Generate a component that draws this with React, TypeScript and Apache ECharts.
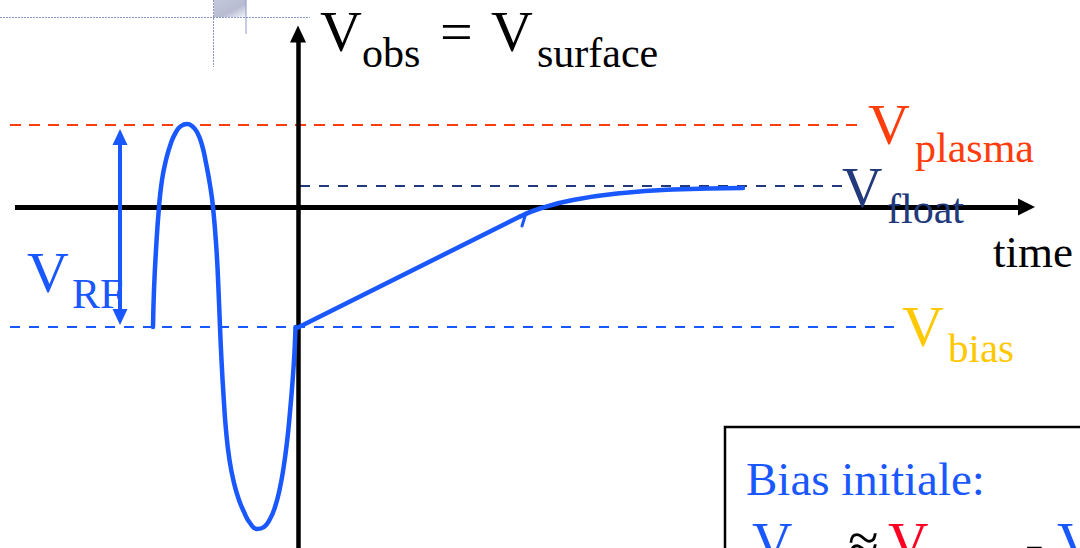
import React, { useEffect, useRef } from "react";
import * as echarts from "echarts";

// Coordinates: time (t) relative to the vertical axis, potential (v) relative to the time axis
const rfWave: number[][] = [
  [-145, -120], [-144, -83], [-142, -43], [-139, 0], [-136, 27], [-132, 47], [-127, 64],
  [-122, 75], [-117, 81], [-111, 83], [-106, 81], [-101, 75], [-96, 62], [-92, 44],
  [-88, 22], [-85, 0], [-81.5, -43], [-79.5, -83], [-78, -120],
  [-76.5, -153], [-74.5, -188], [-72, -223], [-68.5, -253], [-64, -276], [-59, -293],
  [-54, -305], [-48, -316], [-41, -322], [-34, -320], [-28, -312], [-23, -300],
  [-18.5, -283], [-14.5, -261], [-11, -235], [-8, -205], [-5.5, -175], [-3.5, -145], [-2.5, -120],
];
const rampLine: number[][] = [[-1, -121], [222, -9.5]];
const rampCurve: number[][] = [
  [222, -9.5], [242, -1.5], [275, 7], [325, 14], [375, 17.5], [445, 19],
];
const hookMark: number[][] = [[228, -6], [224, -19]];
const plasmaLevel: number[][] = [[-288, 82], [567, 82]];
const floatLevel: number[][] = [[2, 21], [545, 21]];
const biasLevel: number[][] = [[-288, -120], [597, -120]];
const timeAxisLine: number[][] = [[-283, 0], [728.5, 0]];
const voltAxisLine: number[][] = [[0, -341], [0, 173]];
const rfSpan: number[][] = [[-178, 70], [-178, -110]];

const BLUE = "#1957ff";
const PLASMA = "#ff3c0c";
const FLOAT = "#22397c";
const BIAS = "#ffc800";
const RED = "#ff0022";
const FONT = '"Liberation Serif", Tinos, "Times New Roman", Times, "DejaVu Serif", serif';

function txt(text: string, x: number, baseline: number, size: number, fill: string) {
  return {
    type: "text",
    x,
    y: baseline - 0.3375 * size,
    z: 100,
    silent: true,
    style: {
      text,
      fill,
      font: `normal normal ${size}px ${FONT}`,
      fontSize: size,
      fontFamily: FONT,
      align: "left",
      verticalAlign: "middle",
    },
  };
}

export default function App() {
  const ref = useRef<HTMLDivElement>(null);
  useEffect(() => {
    document.body.style.margin = "0";
    const chart = echarts.init(ref.current!, null, { renderer: "svg" });
    const dashed = (data: number[][], color: string, dash: number[]) => ({
      type: "line",
      data,
      symbol: "none",
      silent: true,
      z: 3,
      lineStyle: { color, width: 2, type: dash },
    });
    const curve = (data: number[][], smooth: number | boolean, width: number) => ({
      type: "line",
      data,
      symbol: "none",
      smooth,
      silent: true,
      z: 5,
      lineStyle: { color: BLUE, width, cap: "round", join: "round" },
    });
    chart.setOption({
      animation: false,
      backgroundColor: "#ffffff",
      textStyle: { fontFamily: FONT },
      grid: { left: 0, right: 0, top: 0, bottom: 0, containLabel: false },
      xAxis: { type: "value", min: -298, max: 782, show: false },
      yAxis: { type: "value", min: -341, max: 207, show: false },
      series: [
        {
          type: "line",
          data: [],
          z: 2,
          silent: true,
          markLine: {
            silent: true,
            animation: false,
            label: { show: false },
            emphasis: { disabled: true },
            symbol: ["none", "triangle"],
            symbolSize: [[16, 17], [16, 17]],
            lineStyle: { type: "solid", color: "#000", width: 5 },
            data: [
              [
                { coord: timeAxisLine[0], symbol: "none" },
                {
                  coord: timeAxisLine[1],
                  symbol: "triangle",
                  symbolSize: [17, 17],
                  lineStyle: { color: "#000", width: 5, type: "solid" },
                  itemStyle: { color: "#000" },
                },
              ],
              [
                { coord: voltAxisLine[0], symbol: "none" },
                {
                  coord: voltAxisLine[1],
                  symbol: "triangle",
                  symbolSize: [16, 17],
                  lineStyle: { color: "#000", width: 4.5, type: "solid" },
                  itemStyle: { color: "#000" },
                },
              ],
              [
                { coord: rfSpan[0], symbol: "triangle", symbolSize: [15, 16] },
                {
                  coord: rfSpan[1],
                  symbol: "triangle",
                  symbolSize: [15, 16],
                  lineStyle: { color: BLUE, width: 4, type: "solid" },
                  itemStyle: { color: BLUE },
                },
              ],
            ],
          },
        },
        dashed(plasmaLevel, PLASMA, [11, 8]),
        dashed(floatLevel, FLOAT, [10, 9]),
        dashed(biasLevel, BLUE, [10, 9]),
        curve(rfWave, 0.5, 4.5),
        curve(rampLine, false, 4.5),
        curve(rampCurve, 0.5, 4.5),
        curve(hookMark, false, 3),
      ],
      graphic: [
        // slide artifacts top-left
        {
          type: "rect",
          z: 1,
          shape: { x: 214, y: 0, width: 32, height: 17 },
          style: {
            fill: new echarts.graphic.LinearGradient(0, 0, 1, 1, [
              { offset: 0, color: "#c4c8dc" },
              { offset: 0.6, color: "#b8bcd2" },
              { offset: 1, color: "#f4f5fa" },
            ]),
          },
        },
        { type: "line", z: 1, shape: { x1: 0, y1: 17.5, x2: 310, y2: 17.5 }, style: { stroke: "#8c98c8", lineWidth: 1, lineDash: [2, 1] } },
        { type: "line", z: 1, shape: { x1: 213.5, y1: 0, x2: 213.5, y2: 67 }, style: { stroke: "#8c98c8", lineWidth: 1, lineDash: [2, 1] } },
        { type: "line", z: 1, shape: { x1: 246, y1: 0, x2: 246, y2: 34 }, style: { stroke: "#8c98c8", lineWidth: 1 } },
        // box
        {
          type: "rect",
          z: 1,
          shape: { x: 725, y: 427, width: 500, height: 300 },
          style: { fill: "#ffffff", stroke: "#000000", lineWidth: 2.5 },
        },
        // title
        txt("V", 320, 51, 58, "#000"),
        txt("obs", 362, 67, 42, "#000"),
        txt("=", 440, 51, 58, "#000"),
        txt("V", 491, 51, 58, "#000"),
        txt("surface", 537, 67, 42, "#000"),
        // level labels
        txt("V", 868, 144, 58, PLASMA),
        txt("plasma", 915, 162, 42, PLASMA),
        txt("V", 842, 207, 56, FLOAT),
        txt("float", 887, 223, 42, FLOAT),
        txt("time", 993, 267, 45, "#000"),
        txt("V", 902, 346, 58, BIAS),
        txt("bias", 948, 362, 41, BIAS),
        txt("V", 27, 292, 58, BLUE),
        txt("RF", 72, 308, 42, BLUE),
        // box text
        txt("Bias initiale:", 746, 495, 47, BLUE),
        txt("V", 752, 562, 56, BLUE),
        txt("bias", 792, 578, 42, BLUE),
        txt("≈", 848, 562, 56, "#000"),
        txt("V", 888, 562, 56, RED),
        txt("plasma", 930, 578, 42, RED),
        txt("-", 1025, 562, 56, "#000"),
        txt("V", 1057, 562, 56, BLUE),
        txt("RF", 1097, 578, 42, BLUE),
      ],
    });
    return () => chart.dispose();
  }, []);
  return <div ref={ref} style={{ width: 1080, height: 548 }} />;
}
